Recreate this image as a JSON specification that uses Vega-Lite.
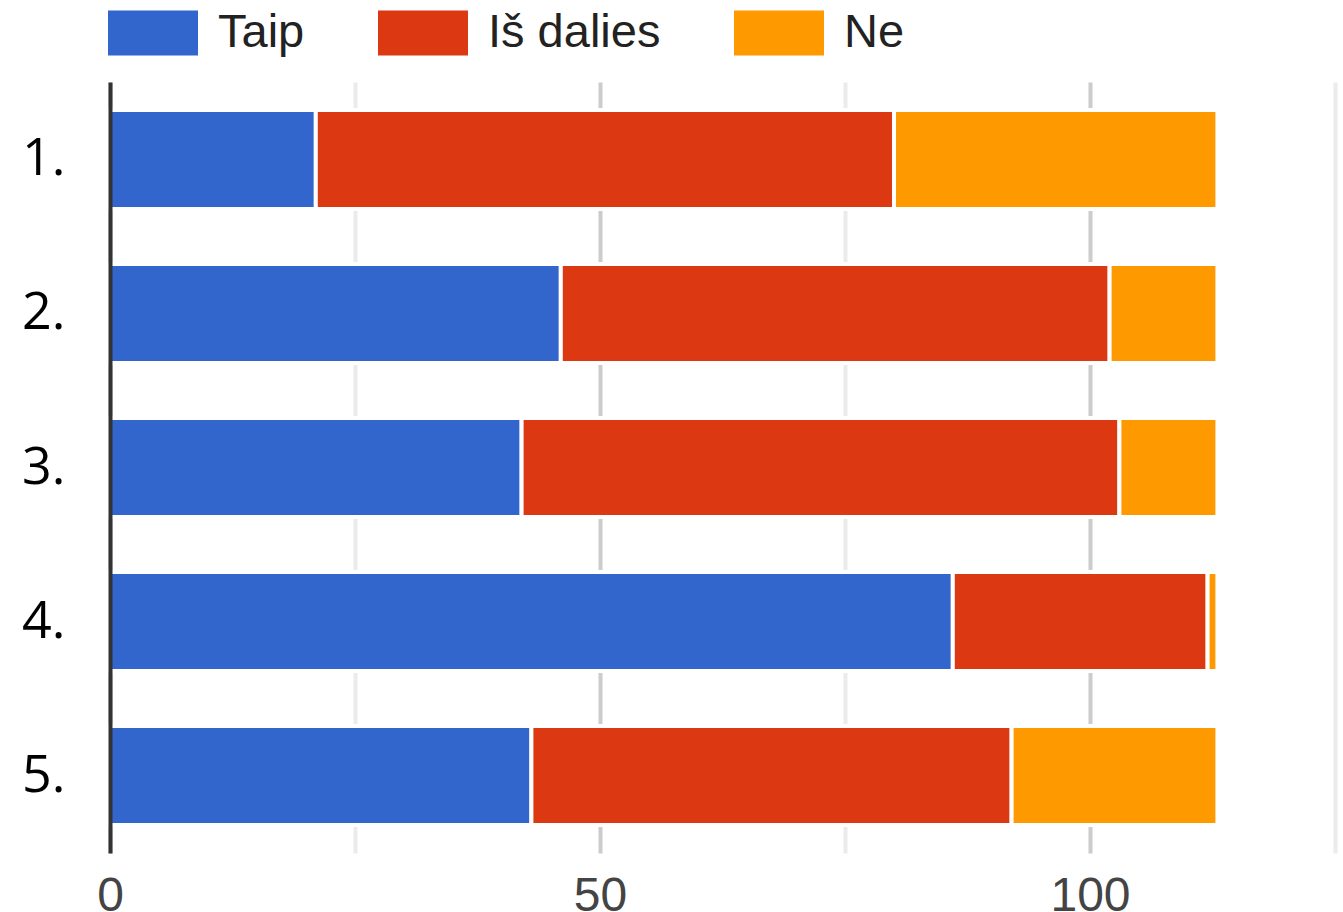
{
  "$schema": "https://vega.github.io/schema/vega-lite/v6.json",
  "width": 1225,
  "height": 771,
  "autosize": {"type": "none"},
  "padding": {"left": 110, "top": 82, "right": 8, "bottom": 59},
  "background": "white",
  "config": {"view": {"stroke": null}},
  "data": {
    "values": [
      {"q": "1.", "s": "Taip", "k": 1, "v": 21},
      {"q": "1.", "s": "Iš dalies", "k": 2, "v": 59},
      {"q": "1.", "s": "Ne", "k": 3, "v": 33},
      {"q": "2.", "s": "Taip", "k": 1, "v": 46},
      {"q": "2.", "s": "Iš dalies", "k": 2, "v": 56},
      {"q": "2.", "s": "Ne", "k": 3, "v": 11},
      {"q": "3.", "s": "Taip", "k": 1, "v": 42},
      {"q": "3.", "s": "Iš dalies", "k": 2, "v": 61},
      {"q": "3.", "s": "Ne", "k": 3, "v": 10},
      {"q": "4.", "s": "Taip", "k": 1, "v": 86},
      {"q": "4.", "s": "Iš dalies", "k": 2, "v": 26},
      {"q": "4.", "s": "Ne", "k": 3, "v": 1},
      {"q": "5.", "s": "Taip", "k": 1, "v": 43},
      {"q": "5.", "s": "Iš dalies", "k": 2, "v": 49},
      {"q": "5.", "s": "Ne", "k": 3, "v": 21}
    ]
  },
  "mark": {"type": "bar", "stroke": "white", "strokeWidth": 4},
  "encoding": {
    "y": {
      "field": "q",
      "type": "nominal",
      "sort": null,
      "scale": {"paddingInner": 0.358, "paddingOuter": 0.182},
      "axis": {
        "title": null,
        "domainColor": "#333333",
        "domainWidth": 4,
        "ticks": false,
        "tickSize": 0,
        "grid": false,
        "labelFont": "Open Sans",
        "labelFontSize": 52,
        "labelColor": "#000000",
        "labelPadding": 45,
        "zindex": 1
      }
    },
    "x": {
      "field": "v",
      "type": "quantitative",
      "stack": "zero",
      "scale": {"domain": [0, 125], "nice": false},
      "axis": {
        "title": null,
        "values": [0, 25, 50, 75, 100, 125],
        "domain": false,
        "ticks": false,
        "tickSize": 0,
        "gridWidth": 4,
        "gridColor": {"condition": {"test": "datum.value % 50 === 0", "value": "#cccccc"}, "value": "#ebebeb"},
        "labelExpr": "datum.value % 50 === 0 ? datum.label : ''",
        "labelFont": "Liberation Sans",
        "labelFontSize": 48,
        "labelColor": "#444444",
        "labelPadding": 19,
        "labelFlush": false,
        "labelOverlap": false
      }
    },
    "color": {
      "field": "s",
      "type": "nominal",
      "scale": {"domain": ["Taip", "Iš dalies", "Ne"], "range": ["#3366cc", "#dc3912", "#ff9900"]},
      "legend": {
        "title": null,
        "orient": "none",
        "legendX": -2,
        "legendY": -94,
        "direction": "horizontal",
        "symbolType": "M-1,-0.5H1V0.5H-1Z",
        "symbolSize": 8100,
        "symbolStrokeWidth": 0,
        "symbolOpacity": 1,
        "labelFont": "Liberation Sans",
        "labelFontSize": 47,
        "labelColor": "#222222",
        "labelOffset": 20,
        "columnPadding": 73,
        "labelLimit": 400
      }
    },
    "order": {"field": "k", "type": "quantitative"}
  }
}
